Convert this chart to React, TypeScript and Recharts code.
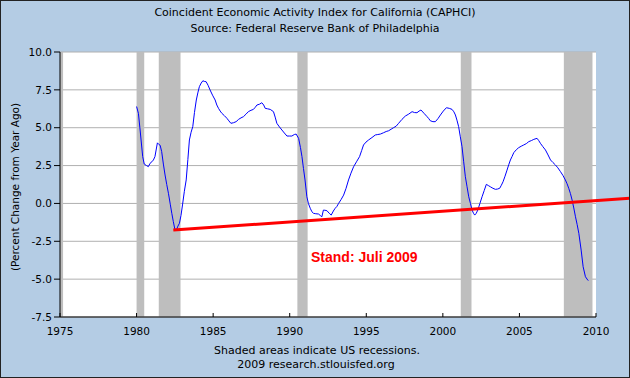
import React from "react";
import {
  LineChart,
  Line,
  XAxis,
  YAxis,
  CartesianGrid,
  ReferenceArea,
  ReferenceLine,
} from "recharts";

// decimal years
const dates = [
  1980.0, 1980.12, 1980.23, 1980.4, 1980.5, 1980.65, 1980.77, 1980.88, 1981.0, 1981.1,
  1981.2, 1981.36, 1981.45, 1981.54, 1981.64, 1981.75, 1981.86, 1981.97, 1982.08, 1982.2,
  1982.3, 1982.4, 1982.5, 1982.6, 1982.7, 1982.8, 1982.9, 1983.0, 1983.12, 1983.24,
  1983.35, 1983.45, 1983.56, 1983.67, 1983.78, 1983.9, 1984.0, 1984.1, 1984.22, 1984.33,
  1984.45, 1984.54, 1984.67, 1984.8, 1984.96, 1985.13, 1985.24, 1985.35, 1985.46, 1985.57,
  1985.73, 1985.9, 1986.03, 1986.16, 1986.33, 1986.5, 1986.66, 1986.82, 1986.98, 1987.15,
  1987.3, 1987.47, 1987.63, 1987.75, 1987.86, 1988.02, 1988.18, 1988.3, 1988.4, 1988.55,
  1988.73, 1988.94, 1989.05, 1989.16, 1989.33, 1989.49, 1989.65, 1989.82, 1989.98, 1990.14,
  1990.3, 1990.42, 1990.58, 1990.7, 1990.8, 1990.9, 1991.0, 1991.12, 1991.22, 1991.34,
  1991.45, 1991.55, 1991.7, 1991.88, 1992.0, 1992.1, 1992.2, 1992.3, 1992.43, 1992.58,
  1992.71, 1992.85, 1992.97, 1993.08, 1993.19, 1993.35, 1993.52, 1993.68, 1993.84, 1994.0,
  1994.17, 1994.36, 1994.56, 1994.7, 1994.82, 1994.98, 1995.15, 1995.37, 1995.59, 1995.75,
  1995.92, 1996.13, 1996.3, 1996.46, 1996.62, 1996.78, 1996.95, 1997.11, 1997.33, 1997.55,
  1997.77, 1997.99, 1998.15, 1998.31, 1998.45, 1998.57, 1998.77, 1998.97, 1999.08, 1999.18,
  1999.35, 1999.51, 1999.68, 1999.84, 2000.03, 2000.23, 2000.42, 2000.6, 2000.72, 2000.82,
  2000.92, 2001.03, 2001.14, 2001.25, 2001.36, 2001.47, 2001.58, 2001.69, 2001.8, 2001.91,
  2002.0, 2002.08, 2002.18, 2002.28, 2002.42, 2002.56, 2002.7, 2002.84, 2002.97, 2003.1,
  2003.27, 2003.43, 2003.57, 2003.71, 2003.82, 2003.93, 2004.06, 2004.19, 2004.3, 2004.41,
  2004.52, 2004.63, 2004.8, 2004.95, 2005.12, 2005.28, 2005.45, 2005.61, 2005.78, 2005.94,
  2006.15, 2006.26, 2006.37, 2006.53, 2006.7, 2006.87, 2007.03, 2007.19, 2007.35, 2007.51,
  2007.68, 2007.84, 2008.0, 2008.11, 2008.22, 2008.33, 2008.44, 2008.55, 2008.66, 2008.77,
  2008.88, 2009.03, 2009.16, 2009.31, 2009.46, 2009.5,
];

// percent change from year ago
const caphci = [
  6.4, 5.95, 4.85, 3.09, 2.6, 2.5, 2.43, 2.65, 2.75, 2.87,
  3.09, 4.0, 3.9, 3.84, 3.42, 2.6, 1.88, 1.25, 0.67, -0.05,
  -0.65, -1.2, -1.7, -1.75, -1.5, -1.31, -0.8, -0.1, 0.8, 1.55,
  2.9, 4.19, 4.7, 5.07, 6.0, 6.83, 7.3, 7.71, 7.95, 8.1,
  8.05, 8.04, 7.8, 7.49, 7.15, 6.83, 6.5, 6.28, 6.1, 5.95,
  5.8, 5.62, 5.45, 5.29, 5.33, 5.4, 5.55, 5.65, 5.73, 5.9,
  6.06, 6.15, 6.21, 6.35, 6.5, 6.55, 6.65, 6.5, 6.28, 6.25,
  6.21, 6.06, 5.7, 5.29, 5.05, 4.85, 4.65, 4.45, 4.45, 4.45,
  4.55, 4.58, 4.3, 3.7, 3.09, 2.3, 1.55, 0.44, 0.0, -0.32,
  -0.55, -0.65, -0.68, -0.7, -0.8, -0.88, -0.44, -0.45, -0.48, -0.65,
  -0.77, -0.5, -0.32, -0.2, 0.0, 0.25, 0.55, 1.0, 1.55, 2.0,
  2.42, 2.75, 3.09, 3.5, 3.86, 4.05, 4.19, 4.35, 4.52, 4.55,
  4.58, 4.67, 4.75, 4.8, 4.9, 5.0, 5.1, 5.29, 5.55, 5.77,
  5.9, 6.06, 6.0, 5.99, 6.1, 6.17, 5.95, 5.73, 5.6, 5.46,
  5.4, 5.4, 5.6, 5.84, 6.1, 6.32, 6.28, 6.21, 6.05, 5.84,
  5.5, 5.07, 4.4, 3.75, 2.75, 1.76, 1.1, 0.44, 0.0, -0.44,
  -0.65, -0.77, -0.65, -0.44, 0.0, 0.44, 0.85, 1.26, 1.18, 1.1,
  1.0, 0.93, 0.95, 1.0, 1.2, 1.43, 1.8, 2.2, 2.55, 2.87,
  3.1, 3.35, 3.55, 3.68, 3.78, 3.86, 3.95, 4.08, 4.15, 4.23,
  4.3, 4.15, 3.97, 3.75, 3.53, 3.2, 2.87, 2.7, 2.54, 2.35,
  2.1, 1.85, 1.55, 1.3, 1.0, 0.65, 0.22, -0.3, -0.88, -1.4,
  -1.98, -3.08, -4.18, -4.84, -5.06, -5.1,
];

const recessionStarts = [1975.0, 1980.0, 1981.45, 1990.5, 2001.17, 2007.9];
const recessionEnds = [1975.2, 1980.5, 1982.87, 1991.17, 2001.87, 2009.77];

const trendX = [1982.4, 2012.2];
const trendY = [-1.76, 0.34];

const xTicks = [1975, 1980, 1985, 1990, 1995, 2000, 2005, 2010];
const yTicks = [-7.5, -5.0, -2.5, 0.0, 2.5, 5.0, 7.5, 10.0];

const data = dates.map((t, i) => ({ t, v: caphci[i] }));

const FONT = "'DejaVu Sans', Verdana, sans-serif";
const BG = "#b4cce4";

const XTick = (props: any) => {
  const { x, y, payload } = props;
  return (
    <g>
      <line x1={x} x2={x} y1={y} y2={y - 4} stroke="#000" />
      <text x={x} y={y + 18} textAnchor="middle" fontSize={10.5} fontFamily={FONT} fill="#000">
        {payload.value}
      </text>
    </g>
  );
};

export default function App() {
  return (
    <div
      style={{
        position: "absolute",
        left: 0,
        top: 0,
        width: 630,
        height: 378,
        background: BG,
        fontFamily: FONT,
      }}
    >
      <div style={{ position: "absolute", top: 6, width: 630, textAlign: "center", fontSize: 11, color: "#000" }}>
        Coincident Economic Activity Index for California (CAPHCI)
      </div>
      <div style={{ position: "absolute", top: 22, width: 630, textAlign: "center", fontSize: 11, color: "#000" }}>
        Source: Federal Reserve Bank of Philadelphia
      </div>

      <LineChart
        width={630}
        height={378}
        data={data}
        margin={{ top: 52, right: 34, bottom: 41, left: 0 }}
      >
        <CartesianGrid horizontal vertical={false} stroke="#b0b0b0" fill="#fff" />
        {recessionStarts.map((s, i) => (
          <ReferenceArea
            key={s}
            x1={s}
            x2={recessionEnds[i]}
            fill="#bebebe"
            fillOpacity={1}
            stroke="none"
            ifOverflow="hidden"
          />
        ))}
        <XAxis
          dataKey="t"
          type="number"
          domain={[1975, 2010]}
          ticks={xTicks}
          height={20}
          axisLine={{ stroke: "#000" }}
          tickLine={false}
          tickSize={0}
          tickMargin={0}
          tick={<XTick />}
          interval={0}
        />
        <YAxis
          type="number"
          domain={[-7.5, 10]}
          ticks={yTicks}
          width={60}
          interval={0}
          axisLine={{ stroke: "#000" }}
          tickLine={{ stroke: "#000" }}
          tickSize={6}
          tickMargin={2}
          tickFormatter={(v: number) => v.toFixed(1)}
          tick={{ fill: "#000", fontSize: 10.5, fontFamily: FONT }}
        />
        <Line
          type="linear"
          dataKey="v"
          stroke="#0000ff"
          strokeWidth={1}
          dot={false}
          isAnimationActive={false}
        />
        <ReferenceLine
          segment={[
            { x: trendX[0], y: trendY[0] },
            { x: trendX[1], y: trendY[1] },
          ]}
          stroke="#ff0000"
          strokeWidth={3}
          ifOverflow="visible"
        />
      </LineChart>

      <div
        style={{
          position: "absolute",
          left: 15,
          top: 187,
          transform: "translate(-50%, -50%) rotate(-90deg)",
          whiteSpace: "nowrap",
          fontSize: 10.5,
          color: "#000",
        }}
      >
        (Percent Change from Year Ago)
      </div>

      <div
        style={{
          position: "absolute",
          left: 311,
          top: 249,
          fontFamily: "'Liberation Sans', Arial, sans-serif",
          fontWeight: "bold",
          fontSize: 14,
          color: "#ff0000",
          whiteSpace: "nowrap",
        }}
      >
        Stand: Juli 2009
      </div>

      <div style={{ position: "absolute", top: 344, width: 634, textAlign: "center", fontSize: 11, color: "#000" }}>
        Shaded areas indicate US recessions.
      </div>
      <div style={{ position: "absolute", top: 358, width: 632, textAlign: "center", fontSize: 11, color: "#000" }}>
        2009 research.stlouisfed.org
      </div>

      <div
        style={{
          position: "absolute",
          left: 0,
          top: 0,
          width: 628,
          height: 376,
          border: "1px solid #222",
          pointerEvents: "none",
        }}
      />
    </div>
  );
}
